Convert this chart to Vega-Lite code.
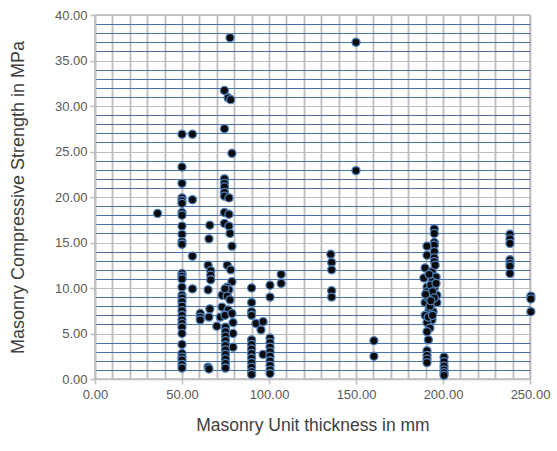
{
  "$schema": "https://vega.github.io/schema/vega-lite/v6.json",
  "width": 435,
  "height": 364,
  "autosize": "none",
  "padding": {"left": 95, "top": 15, "right": 27, "bottom": 72},
  "background": "#ffffff",
  "config": {
    "font": "Liberation Sans",
    "view": {"stroke": "#bfbfbf", "strokeWidth": 1.5}
  },
  "data": {
    "values": [
      {"thickness": 36, "strength": 18.2},
      {"thickness": 50, "strength": 26.9},
      {"thickness": 50, "strength": 23.3},
      {"thickness": 50, "strength": 21.5},
      {"thickness": 50, "strength": 19.9},
      {"thickness": 50, "strength": 19.6},
      {"thickness": 50, "strength": 19.3},
      {"thickness": 50, "strength": 18.3},
      {"thickness": 50, "strength": 18.0},
      {"thickness": 50, "strength": 16.8},
      {"thickness": 50, "strength": 15.9},
      {"thickness": 50, "strength": 15.1},
      {"thickness": 50, "strength": 14.8},
      {"thickness": 50, "strength": 11.6},
      {"thickness": 50, "strength": 11.3},
      {"thickness": 50, "strength": 11.0},
      {"thickness": 50, "strength": 10.1},
      {"thickness": 50, "strength": 9.2},
      {"thickness": 50, "strength": 8.9},
      {"thickness": 50, "strength": 8.5},
      {"thickness": 50, "strength": 8.0},
      {"thickness": 50, "strength": 7.5},
      {"thickness": 50, "strength": 7.0},
      {"thickness": 50, "strength": 6.5},
      {"thickness": 50, "strength": 6.1},
      {"thickness": 50, "strength": 5.7},
      {"thickness": 50, "strength": 5.0},
      {"thickness": 50, "strength": 3.8},
      {"thickness": 50, "strength": 2.8},
      {"thickness": 50, "strength": 2.4},
      {"thickness": 50, "strength": 2.1},
      {"thickness": 50, "strength": 1.6},
      {"thickness": 50, "strength": 1.2},
      {"thickness": 56, "strength": 26.9},
      {"thickness": 56, "strength": 19.7},
      {"thickness": 56, "strength": 13.5},
      {"thickness": 56, "strength": 9.9},
      {"thickness": 60.5, "strength": 7.2},
      {"thickness": 60.5, "strength": 6.8},
      {"thickness": 60.5, "strength": 6.5},
      {"thickness": 66, "strength": 16.9},
      {"thickness": 65.5, "strength": 15.4},
      {"thickness": 65, "strength": 12.5},
      {"thickness": 66.5, "strength": 11.9},
      {"thickness": 66.5, "strength": 11.4},
      {"thickness": 66.5, "strength": 10.9},
      {"thickness": 65, "strength": 9.8},
      {"thickness": 66, "strength": 7.7},
      {"thickness": 65.5, "strength": 6.8},
      {"thickness": 65, "strength": 1.3},
      {"thickness": 65.5, "strength": 1.1},
      {"thickness": 70, "strength": 5.8},
      {"thickness": 72, "strength": 6.8},
      {"thickness": 73, "strength": 9.2},
      {"thickness": 73, "strength": 7.9},
      {"thickness": 74.4, "strength": 31.7},
      {"thickness": 74.4, "strength": 27.5},
      {"thickness": 74.4, "strength": 22.0},
      {"thickness": 74.4, "strength": 21.5},
      {"thickness": 74.4, "strength": 21.1},
      {"thickness": 74.4, "strength": 20.5},
      {"thickness": 74.4, "strength": 20.1},
      {"thickness": 74.4, "strength": 18.3},
      {"thickness": 74.4, "strength": 17.1},
      {"thickness": 77.6, "strength": 37.5},
      {"thickness": 76.5, "strength": 30.9},
      {"thickness": 78, "strength": 30.7},
      {"thickness": 78.7, "strength": 24.8},
      {"thickness": 77, "strength": 19.9},
      {"thickness": 77, "strength": 18.1},
      {"thickness": 77, "strength": 16.8},
      {"thickness": 77.6, "strength": 16.0},
      {"thickness": 78.7, "strength": 14.6},
      {"thickness": 76, "strength": 12.5},
      {"thickness": 78, "strength": 12.0},
      {"thickness": 78.7, "strength": 10.7},
      {"thickness": 76, "strength": 10.1},
      {"thickness": 77, "strength": 9.8},
      {"thickness": 74.7, "strength": 9.9},
      {"thickness": 76, "strength": 9.1},
      {"thickness": 77.6, "strength": 8.7},
      {"thickness": 76.5, "strength": 7.6},
      {"thickness": 74.7, "strength": 7.0},
      {"thickness": 78.7, "strength": 7.2},
      {"thickness": 79.3, "strength": 6.2},
      {"thickness": 79.3, "strength": 5.0},
      {"thickness": 79.3, "strength": 3.5},
      {"thickness": 75, "strength": 5.7},
      {"thickness": 75, "strength": 5.2},
      {"thickness": 75, "strength": 4.7},
      {"thickness": 75, "strength": 4.2},
      {"thickness": 75, "strength": 3.7},
      {"thickness": 75, "strength": 3.2},
      {"thickness": 75, "strength": 2.7},
      {"thickness": 75, "strength": 2.2},
      {"thickness": 75, "strength": 1.7},
      {"thickness": 75, "strength": 1.2},
      {"thickness": 90, "strength": 10.0},
      {"thickness": 90, "strength": 8.4},
      {"thickness": 90, "strength": 7.4},
      {"thickness": 90, "strength": 7.0},
      {"thickness": 90, "strength": 4.3},
      {"thickness": 90, "strength": 3.8},
      {"thickness": 90, "strength": 3.3},
      {"thickness": 90, "strength": 2.8},
      {"thickness": 90, "strength": 2.3},
      {"thickness": 90, "strength": 1.8},
      {"thickness": 90, "strength": 1.3},
      {"thickness": 90, "strength": 0.8},
      {"thickness": 90, "strength": 0.5},
      {"thickness": 92.5, "strength": 6.1},
      {"thickness": 95.4, "strength": 5.4},
      {"thickness": 96.6, "strength": 6.3},
      {"thickness": 96.6, "strength": 2.7},
      {"thickness": 100.6, "strength": 10.3},
      {"thickness": 100.6, "strength": 9.0},
      {"thickness": 100.6, "strength": 4.5},
      {"thickness": 100.6, "strength": 4.0},
      {"thickness": 100.6, "strength": 3.5},
      {"thickness": 100.6, "strength": 3.0},
      {"thickness": 100.6, "strength": 2.5},
      {"thickness": 100.6, "strength": 2.0},
      {"thickness": 100.6, "strength": 1.5},
      {"thickness": 100.6, "strength": 1.0},
      {"thickness": 100.6, "strength": 0.6},
      {"thickness": 107, "strength": 11.5},
      {"thickness": 107, "strength": 10.5},
      {"thickness": 135.5, "strength": 13.7},
      {"thickness": 136, "strength": 12.8},
      {"thickness": 136, "strength": 12.0},
      {"thickness": 136, "strength": 9.7},
      {"thickness": 136, "strength": 9.0},
      {"thickness": 150, "strength": 37.0},
      {"thickness": 150, "strength": 22.9},
      {"thickness": 160.3, "strength": 4.2},
      {"thickness": 160.3, "strength": 2.5},
      {"thickness": 195, "strength": 16.5},
      {"thickness": 195, "strength": 16.0},
      {"thickness": 195, "strength": 15.0},
      {"thickness": 195, "strength": 14.7},
      {"thickness": 190.8, "strength": 14.6},
      {"thickness": 190.8, "strength": 13.6},
      {"thickness": 195, "strength": 14.0},
      {"thickness": 195, "strength": 13.3},
      {"thickness": 195, "strength": 12.9},
      {"thickness": 189.7, "strength": 12.2},
      {"thickness": 193.7, "strength": 11.8},
      {"thickness": 196, "strength": 11.2},
      {"thickness": 189, "strength": 11.1},
      {"thickness": 193.7, "strength": 10.7},
      {"thickness": 190.8, "strength": 10.1},
      {"thickness": 195, "strength": 10.0},
      {"thickness": 196.5, "strength": 9.2},
      {"thickness": 190.8, "strength": 9.6},
      {"thickness": 189.7, "strength": 8.4},
      {"thickness": 194.3, "strength": 8.4},
      {"thickness": 196.5, "strength": 8.4},
      {"thickness": 192, "strength": 7.6},
      {"thickness": 194.3, "strength": 7.4},
      {"thickness": 189.7, "strength": 7.0},
      {"thickness": 193.7, "strength": 6.5},
      {"thickness": 190.8, "strength": 6.2},
      {"thickness": 192.5, "strength": 5.6},
      {"thickness": 190.8, "strength": 5.2},
      {"thickness": 191.6, "strength": 4.3},
      {"thickness": 190.8, "strength": 3.1},
      {"thickness": 190.8, "strength": 2.6},
      {"thickness": 190.8, "strength": 2.2},
      {"thickness": 190.8, "strength": 1.8},
      {"thickness": 192, "strength": 11.5},
      {"thickness": 193, "strength": 10.3},
      {"thickness": 191, "strength": 9.0},
      {"thickness": 194, "strength": 9.6},
      {"thickness": 192.5, "strength": 8.0},
      {"thickness": 195, "strength": 8.9},
      {"thickness": 191.5, "strength": 6.8},
      {"thickness": 194, "strength": 7.0},
      {"thickness": 196, "strength": 10.5},
      {"thickness": 195.5, "strength": 12.5},
      {"thickness": 190, "strength": 9.3},
      {"thickness": 193, "strength": 8.6},
      {"thickness": 200.6, "strength": 2.4},
      {"thickness": 200.6, "strength": 1.9},
      {"thickness": 200.6, "strength": 1.4},
      {"thickness": 200.6, "strength": 1.0},
      {"thickness": 200.6, "strength": 0.7},
      {"thickness": 200.6, "strength": 0.4},
      {"thickness": 238.5, "strength": 15.9},
      {"thickness": 238.5, "strength": 15.4},
      {"thickness": 238.5, "strength": 14.9},
      {"thickness": 238.5, "strength": 13.1},
      {"thickness": 238.5, "strength": 12.7},
      {"thickness": 238.5, "strength": 12.4},
      {"thickness": 238.5, "strength": 11.6},
      {"thickness": 250.5, "strength": 9.1},
      {"thickness": 250.5, "strength": 8.8},
      {"thickness": 250.5, "strength": 7.4}
    ]
  },
  "mark": {
    "type": "point",
    "shape": "circle",
    "filled": true,
    "fill": "#0b0b0b",
    "stroke": "#4f81bd",
    "strokeWidth": 1.3,
    "opacity": 1,
    "size": 66,
    "clip": false
  },
  "encoding": {
    "x": {
      "field": "thickness",
      "type": "quantitative",
      "scale": {"domain": [0, 250], "nice": false},
      "axis": {
        "title": "Masonry Unit thickness in mm",
        "values": [0, 10, 20, 30, 40, 50, 60, 70, 80, 90, 100, 110, 120, 130, 140, 150, 160, 170, 180, 190, 200, 210, 220, 230, 240, 250],
        "labelExpr": "datum.value % 50 === 0 ? format(datum.value, '.2f') : ''",
        "labelFontSize": 13,
        "labelColor": "#595959",
        "labelPadding": 4,
        "labelOverlap": false,
        "labelFlush": false,
        "tickSize": {"condition": {"test": "datum.value % 50 === 0", "value": 5}, "value": 0},
        "tickColor": "#bfbfbf",
        "tickWidth": 1.5,
        "domainColor": "#bfbfbf",
        "domainWidth": 1.5,
        "grid": true,
        "gridColor": "#bdbdbd",
        "gridWidth": 1.8,
        "titleFontSize": 17.5,
        "titleFontWeight": "normal",
        "titleColor": "#404040",
        "titleBaseline": "middle",
        "titleY": 46
      }
    },
    "y": {
      "field": "strength",
      "type": "quantitative",
      "scale": {"domain": [0, 40], "nice": false},
      "axis": {
        "title": "Masonry Compressive Strength in MPa",
        "values": [0, 1, 2, 3, 4, 5, 6, 7, 8, 9, 10, 11, 12, 13, 14, 15, 16, 17, 18, 19, 20, 21, 22, 23, 24, 25, 26, 27, 28, 29, 30, 31, 32, 33, 34, 35, 36, 37, 38, 39, 40],
        "labelExpr": "datum.value % 5 === 0 ? format(datum.value, '.2f') : ''",
        "labelFontSize": 13,
        "labelColor": "#595959",
        "labelPadding": 3,
        "labelOverlap": false,
        "labelFlush": false,
        "tickSize": {"condition": {"test": "datum.value % 5 === 0", "value": 5}, "value": 0},
        "tickColor": "#bfbfbf",
        "tickWidth": 1.5,
        "domainColor": "#bfbfbf",
        "domainWidth": 1.5,
        "grid": true,
        "gridColor": {"condition": {"test": "datum.value % 5 === 0", "value": "#bdbdbd"}, "value": "#4a72aa"},
        "gridWidth": 1.1,
        "titleFontSize": 18,
        "titleFontWeight": "normal",
        "titleColor": "#404040",
        "titleX": -77,
        "titleY": 182,
        "titleAlign": "center",
        "titleBaseline": "middle"
      }
    }
  }
}
